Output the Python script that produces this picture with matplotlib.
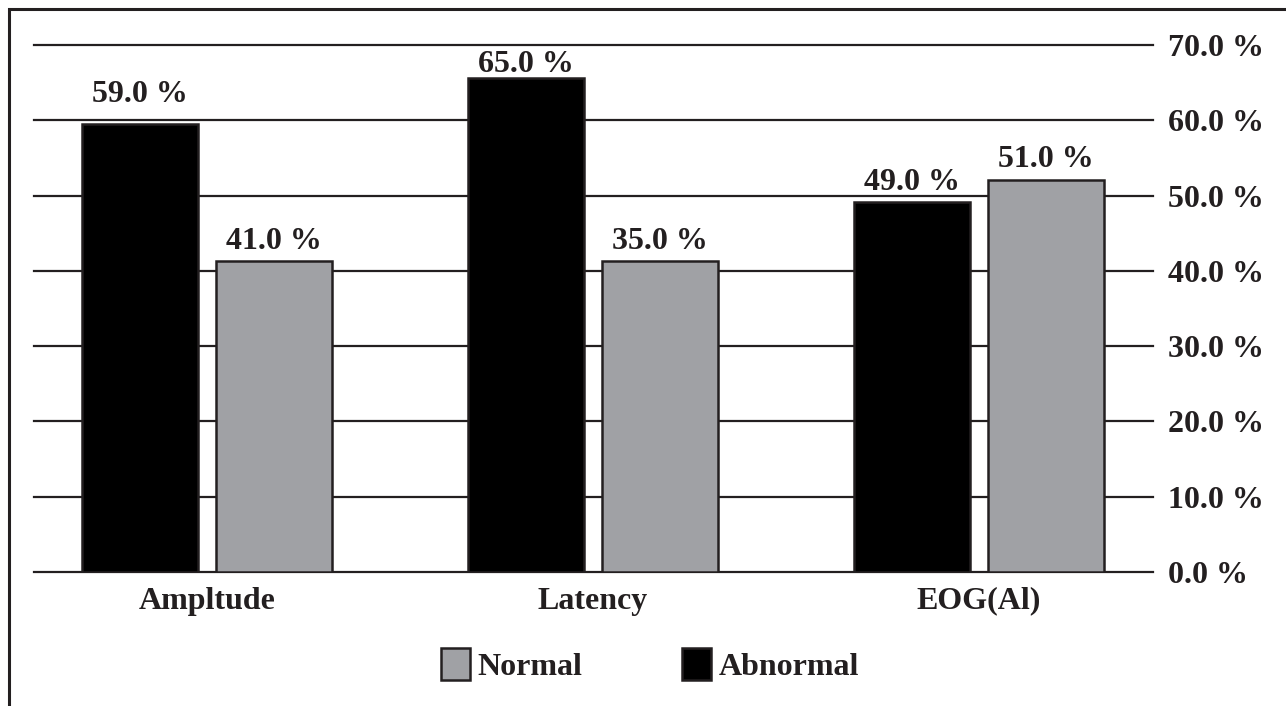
import matplotlib
matplotlib.use("Agg")
import matplotlib.pyplot as plt
import numpy as np
from matplotlib.patches import Patch, Rectangle

# data
categories = ["Ampltude", "Latency", "EOG(Al)"]
abnormal_pct = [59.0, 65.0, 49.0]      # printed values
normal_pct = [41.0, 35.0, 51.0]
abnormal_bar = [59.5, 65.6, 49.2]      # heights as drawn in the figure
normal_bar = [41.3, 41.3, 52.1]
y_ticks = [0, 10, 20, 30, 40, 50, 60, 70]

INK = "#231f20"
GREY = "#a0a1a5"

plt.rcParams["font.family"] = ["Liberation Serif", "DejaVu Serif"]
plt.rcParams["font.weight"] = "bold"
FS = 23

fig = plt.figure(figsize=(12.86, 7.06), dpi=100)
ax = fig.add_axes([0.02644, 0.1898, 0.8702, 0.7465])

x = np.arange(len(categories))
width = 0.30
off = 0.173

ax.set_axisbelow(True)
for t in y_ticks:
    ax.axhline(t, color=INK, lw=1.6, zorder=0, clip_on=False)

b_abn = ax.bar(x - off, abnormal_bar, width, color="black", edgecolor=INK,
               linewidth=1.8, zorder=2)
b_nor = ax.bar(x + off, normal_bar, width, color=GREY, edgecolor=INK,
               linewidth=1.8, zorder=2)

# label gaps above the bars, in points
abn_gap = [16, 4.3, 8]
nor_gap = [8.6, 8.6, 9.4]
for rects, vals, gaps in ((b_abn, abnormal_pct, abn_gap), (b_nor, normal_pct, nor_gap)):
    for r, v, g in zip(rects, vals, gaps):
        ax.annotate(f"{v:.1f} %", (r.get_x() + r.get_width() / 2, r.get_height()),
                    xytext=(0, g), textcoords="offset points", ha="center",
                    va="baseline", fontsize=FS, fontweight="bold", color=INK)

ax.set_xlim(-0.448, 2.451)
ax.set_ylim(0, 70)
for s in ax.spines.values():
    s.set_visible(False)

ax.yaxis.tick_right()
ax.set_yticks(y_ticks)
ax.set_yticklabels([f"{t:.1f} %" for t in y_ticks])
ax.tick_params(axis="y", length=0, pad=10.8, labelsize=FS, labelcolor=INK)
ax.set_xticks(x)
ax.set_xticklabels(categories)
ax.tick_params(axis="x", length=0, pad=10.5, labelsize=FS, labelcolor=INK)
for lab in ax.get_xticklabels() + ax.get_yticklabels():
    lab.set_fontweight("bold")

handles = [Patch(facecolor=GREY, edgecolor=INK, linewidth=1.8, label="Normal"),
           Patch(facecolor="black", edgecolor=INK, linewidth=1.8, label="Abnormal")]
fig.legend(handles=handles, loc="center", bbox_to_anchor=(650 / 1286, 1 - 665 / 706),
           ncol=2, frameon=False, prop={"size": FS, "weight": "bold"},
           handlelength=0.9, handleheight=1.15, handletextpad=0.25,
           columnspacing=3.1, labelcolor=INK)

# outer frame (top and left visible, the rest cropped)
fig.add_artist(Rectangle((9 / 1286, -0.1), 1.2, 1.1 - 9 / 706,
                         transform=fig.transFigure, fill=False,
                         edgecolor=INK, linewidth=2.2))

fig.savefig("out.png", dpi=100)
